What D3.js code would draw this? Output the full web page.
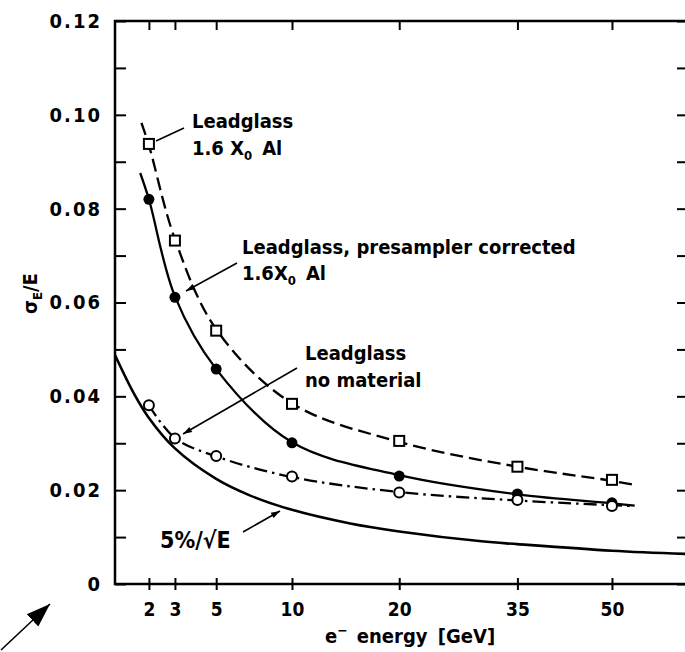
<!DOCTYPE html>
<html>
<head>
<meta charset="utf-8">
<script src="https://cdn.jsdelivr.net/npm/d3@7"></script>
<style>
  html, body { margin: 0; padding: 0; background: #fff; }
  svg { display: block; }
  text { font-family: "DejaVu Sans Condensed", "DejaVu Sans", sans-serif; font-weight: bold; fill: #000; }
</style>
</head>
<body>
<svg id="chart" width="685" height="652"></svg>
<script>
// ---- data ----
const energies = [2, 3, 5, 10, 20, 35, 50];
const leadglassAl = [0.0938, 0.0732, 0.0540, 0.0384, 0.0305, 0.0250, 0.0222];
const presamplerCorrected = [0.0820, 0.0611, 0.0458, 0.0301, 0.0230, 0.0192, 0.0173];
const noMaterial = [0.0381, 0.0310, 0.0273, 0.0229, 0.0195, 0.0179, 0.0166];

// drawn fit curves
const fitLeadglassAlE = [1.75, 2, 3, 5, 10, 20, 35, 50, 54];
const fitLeadglassAl = [0.0983, 0.0935, 0.0735, 0.0543, 0.0385, 0.0303, 0.0250, 0.0220, 0.0211];
const fitPresamplerE = [1.71, 2, 3, 5, 10, 20, 35, 50, 54];
const fitPresampler = [0.0876, 0.0820, 0.0613, 0.0458, 0.0302, 0.0232, 0.0191, 0.0172, 0.0167];
const fitNoMaterialE = [2, 3, 5, 10, 20, 35, 50, 54];
const fitNoMaterial = [0.0381, 0.0311, 0.0272, 0.0228, 0.0196, 0.0178, 0.0168, 0.0166];
const refCurveE = [1, 1.5, 2, 3, 5, 7, 10, 15, 20, 30, 35, 50, 64];
const refCurve = [0.0488, 0.0408, 0.0354, 0.0289, 0.0224, 0.0189, 0.0158, 0.0129, 0.0112, 0.0091, 0.0085, 0.0071, 0.0064];

const xTicks = [2, 3, 5, 10, 20, 35, 50];
const yMajorTicks = [0, 0.02, 0.04, 0.06, 0.08, 0.10, 0.12];
const yMinorTicks = [0.01, 0.03, 0.05, 0.07, 0.09, 0.11];
const yTickLabels = ["0", "0.02", "0.04", "0.06", "0.08", "0.10", "0.12"];

// ---- layout ----
const L = 115, R = 688, T = 21, B = 584;
const svg = d3.select("#chart");
const x = d3.scalePow().exponent(0.5).domain([1, 64]).range([L, R]);
const y = d3.scaleLinear().domain([0, 0.12]).range([B, T]);

const defs = svg.append("defs");
defs.append("marker").attr("id", "ah").attr("viewBox", "-10 -5 10 10")
  .attr("refX", 0).attr("refY", 0).attr("markerWidth", 10).attr("markerHeight", 10)
  .attr("markerUnits", "userSpaceOnUse").attr("orient", "auto")
  .append("path").attr("d", "M0,0 L-9,-3 L-9,3 Z").attr("fill", "#000");
defs.append("marker").attr("id", "bigah").attr("viewBox", "-24 -10 24 20")
  .attr("refX", 0).attr("refY", 0).attr("markerWidth", 24).attr("markerHeight", 20)
  .attr("markerUnits", "userSpaceOnUse").attr("orient", "auto")
  .append("path").attr("d", "M0,0 L-24,-8.5 L-24,8.5 Z").attr("fill", "#000");

// frame
svg.append("rect").attr("x", L).attr("y", T).attr("width", R - L).attr("height", B - T)
  .attr("fill", "none").attr("stroke", "#000").attr("stroke-width", 2.5);

function styleAxis(g) {
  g.select(".domain").remove();
  g.selectAll(".tick line").attr("stroke", "#000").attr("stroke-width", 2);
}
// bottom axis: ticks cross the line
svg.append("g").attr("transform", `translate(0,${B})`)
  .call(d3.axisBottom(x).tickValues(xTicks).tickSize(6).tickPadding(13).tickFormat(d3.format("d")))
  .call(styleAxis)
  .call(g => g.selectAll("text").attr("font-size", 19).attr("font-family", null));
svg.append("g").attr("transform", `translate(0,${B})`)
  .call(d3.axisBottom(x).tickValues(xTicks).tickSize(-6).tickFormat(""))
  .call(styleAxis);
// top axis inward
svg.append("g").attr("transform", `translate(0,${T})`)
  .call(d3.axisTop(x).tickValues(xTicks).tickSize(-9).tickFormat(""))
  .call(styleAxis);
// left axis inward
svg.append("g").attr("transform", `translate(${L},0)`)
  .call(d3.axisLeft(y).tickValues(yMajorTicks).tickSize(-11).tickPadding(13)
    .tickFormat((d, i) => yTickLabels[i]))
  .call(styleAxis)
  .call(g => g.selectAll("text").attr("font-size", 20).attr("font-family", null).attr("letter-spacing", "2px"));
svg.append("g").attr("transform", `translate(${L},0)`)
  .call(d3.axisLeft(y).tickValues(yMinorTicks).tickSize(-11).tickFormat(""))
  .call(styleAxis);
// right axis inward
svg.append("g").attr("transform", `translate(${R},0)`)
  .call(d3.axisRight(y).tickValues(yMajorTicks.concat(yMinorTicks)).tickSize(-11).tickFormat(""))
  .call(styleAxis);

// axis titles
const xt = svg.append("text").attr("x", 325).attr("y", 643).attr("font-size", 20);
xt.append("tspan").text("e");
xt.append("tspan").attr("dy", -8).attr("font-size", 14).text("\u2212");
xt.append("tspan").attr("dy", 8).attr("dx", 9).attr("word-spacing", "4px").text("energy [GeV]");

const yt = svg.append("text").attr("transform", "translate(37,314) rotate(-90)").attr("font-size", 20);
yt.append("tspan").text("\u03c3");
yt.append("tspan").attr("dy", 5).attr("font-size", 13).text("E");
yt.append("tspan").attr("dy", -5).text("/E");

// curves
const line = d3.line().x(d => x(d[0])).y(d => y(d[1])).curve(d3.curveCatmullRom.alpha(0.5));
const zip = (a, b) => a.map((v, i) => [v, b[i]]);

svg.append("path").attr("d", line(zip(refCurveE, refCurve)))
  .attr("fill", "none").attr("stroke", "#000").attr("stroke-width", 2.6);
svg.append("path").attr("d", line(zip(fitLeadglassAlE, fitLeadglassAl)))
  .attr("fill", "none").attr("stroke", "#000").attr("stroke-width", 2.3).attr("stroke-dasharray", "13,6");
svg.append("path").attr("d", line(zip(fitPresamplerE, fitPresampler)))
  .attr("fill", "none").attr("stroke", "#000").attr("stroke-width", 2.3);
svg.append("path").attr("d", line(zip(fitNoMaterialE, fitNoMaterial)))
  .attr("fill", "none").attr("stroke", "#000").attr("stroke-width", 2.3).attr("stroke-dasharray", "13,5,2.5,5");

// markers
svg.append("g").selectAll("rect").data(zip(energies, leadglassAl)).join("rect")
  .attr("x", d => x(d[0]) - 5).attr("y", d => y(d[1]) - 5).attr("width", 10).attr("height", 10)
  .attr("fill", "#fff").attr("stroke", "#000").attr("stroke-width", 2);
svg.append("g").selectAll("circle").data(zip(energies, presamplerCorrected)).join("circle")
  .attr("cx", d => x(d[0])).attr("cy", d => y(d[1])).attr("r", 5.5).attr("fill", "#000");
svg.append("g").selectAll("circle").data(zip(energies, noMaterial)).join("circle")
  .attr("cx", d => x(d[0])).attr("cy", d => y(d[1])).attr("r", 5).attr("fill", "#fff")
  .attr("stroke", "#000").attr("stroke-width", 2);

// annotations
const FS = 20;
function label(lines, x0, y0, dy) {
  const t = svg.append("text").attr("font-size", FS);
  lines.forEach((ln, i) => t.append("tspan").attr("x", x0).attr("y", y0 + i * dy).text(ln));
}
function x0Line(pre, post, xx, yy) {
  const t = svg.append("text").attr("font-size", FS).attr("x", xx).attr("y", yy);
  t.append("tspan").text(pre);
  t.append("tspan").attr("dy", 5).attr("font-size", 13).text("0");
  t.append("tspan").attr("dy", -5).attr("dx", 10).text(post);
}
label(["Leadglass"], 192, 128, 0);
x0Line("1.6 X", "Al", 192, 155);
label(["Leadglass, presampler corrected"], 242, 254, 0);
x0Line("1.6X", "Al", 242, 280);
label(["Leadglass", "no material"], 305, 360, 27);
svg.append("text").attr("x", 160).attr("y", 548).attr("font-size", 23).text("5%/\u221aE");

function pointer(x1, y1, x2, y2, head) {
  const p = svg.append("line").attr("x1", x1).attr("y1", y1).attr("x2", x2).attr("y2", y2)
    .attr("stroke", "#000").attr("stroke-width", 1.6);
  if (head) p.attr("marker-end", `url(#${head})`);
}
pointer(184, 128, 156, 141, null);
pointer(237, 263, 186, 291, "ah");
pointer(297, 368, 183, 434, "ah");
pointer(243, 532, 280, 511, "ah");
pointer(1, 650, 50, 604, "bigah");
</script>
</body>
</html>
